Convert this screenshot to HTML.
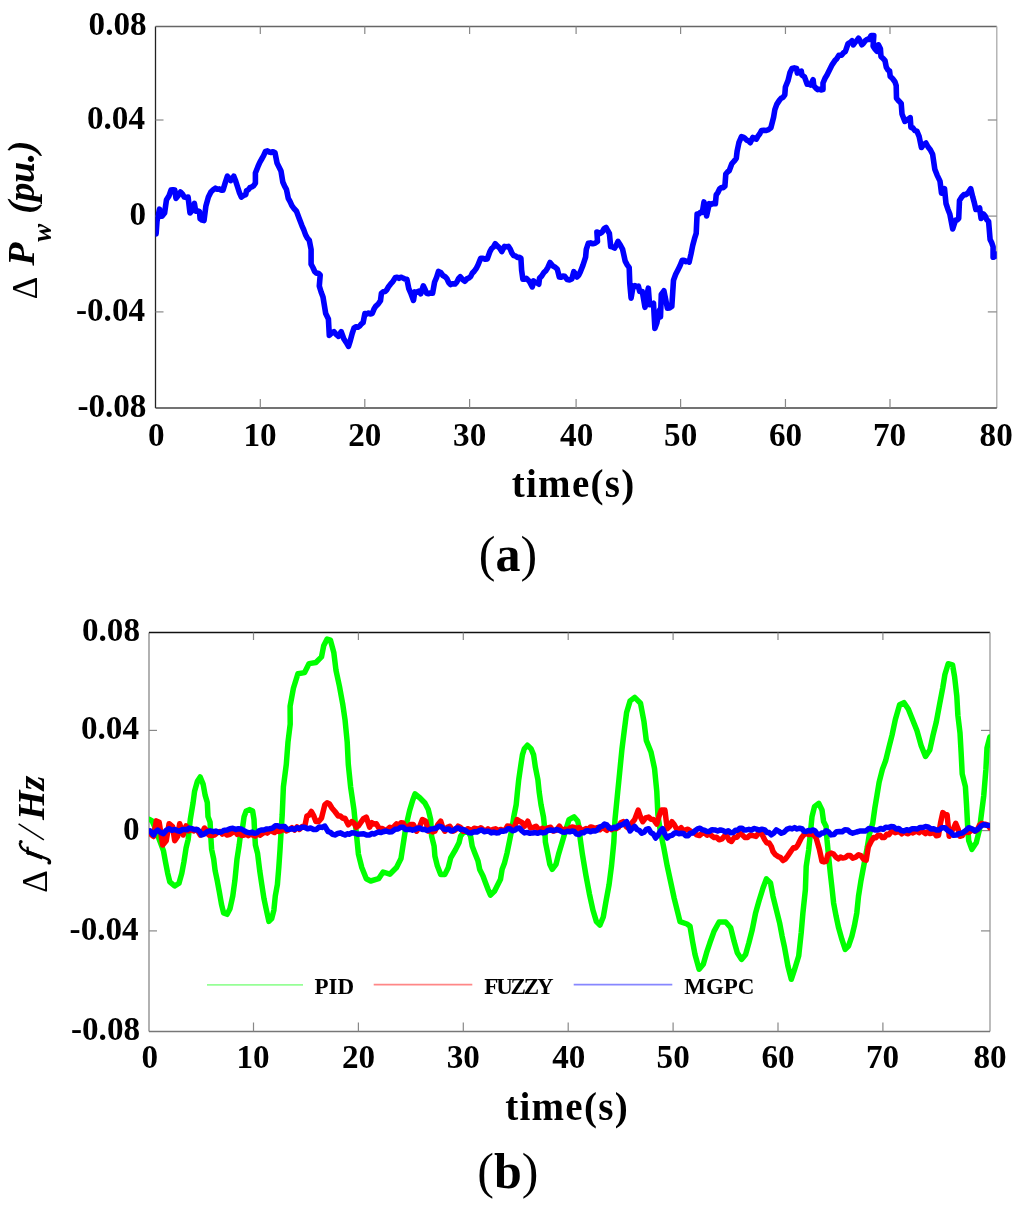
<!DOCTYPE html>
<html><head><meta charset="utf-8"><style>
html,body{margin:0;padding:0;background:#fff;}
svg{display:block;will-change:transform;}
text{font-family:"Liberation Serif",serif;}
</style></head><body>
<svg width="1024" height="1205" viewBox="0 0 1024 1205">
<rect width="1024" height="1205" fill="#fff"/>
<line x1="155.5" y1="26.5" x2="155.5" y2="408.0" stroke="#222" stroke-width="1.3"/>
<line x1="155.5" y1="26.5" x2="996.8" y2="26.5" stroke="#666" stroke-width="1.3"/>
<line x1="996.8" y1="26.5" x2="996.8" y2="408.0" stroke="#aaa" stroke-width="1.3"/>
<line x1="155.5" y1="408.0" x2="996.8" y2="408.0" stroke="#444" stroke-width="1.3"/>
<line x1="260.30" y1="408.0" x2="260.30" y2="399.0" stroke="#888" stroke-width="1.2"/>
<line x1="260.30" y1="26.5" x2="260.30" y2="34.0" stroke="#888" stroke-width="1.2"/>
<line x1="364.80" y1="408.0" x2="364.80" y2="399.0" stroke="#888" stroke-width="1.2"/>
<line x1="364.80" y1="26.5" x2="364.80" y2="34.0" stroke="#888" stroke-width="1.2"/>
<line x1="469.60" y1="408.0" x2="469.60" y2="399.0" stroke="#888" stroke-width="1.2"/>
<line x1="469.60" y1="26.5" x2="469.60" y2="34.0" stroke="#888" stroke-width="1.2"/>
<line x1="576.10" y1="408.0" x2="576.10" y2="399.0" stroke="#888" stroke-width="1.2"/>
<line x1="576.10" y1="26.5" x2="576.10" y2="34.0" stroke="#888" stroke-width="1.2"/>
<line x1="680.60" y1="408.0" x2="680.60" y2="399.0" stroke="#888" stroke-width="1.2"/>
<line x1="680.60" y1="26.5" x2="680.60" y2="34.0" stroke="#888" stroke-width="1.2"/>
<line x1="785.45" y1="408.0" x2="785.45" y2="399.0" stroke="#888" stroke-width="1.2"/>
<line x1="785.45" y1="26.5" x2="785.45" y2="34.0" stroke="#888" stroke-width="1.2"/>
<line x1="890.00" y1="408.0" x2="890.00" y2="399.0" stroke="#888" stroke-width="1.2"/>
<line x1="890.00" y1="26.5" x2="890.00" y2="34.0" stroke="#888" stroke-width="1.2"/>
<line x1="155.5" y1="120.0" x2="163.5" y2="120.0" stroke="#888" stroke-width="1.2"/>
<line x1="996.8" y1="120.0" x2="987.8" y2="120.0" stroke="#888" stroke-width="1.2"/>
<line x1="155.5" y1="216.1" x2="163.5" y2="216.1" stroke="#888" stroke-width="1.2"/>
<line x1="996.8" y1="216.1" x2="987.8" y2="216.1" stroke="#888" stroke-width="1.2"/>
<line x1="155.5" y1="311.9" x2="163.5" y2="311.9" stroke="#888" stroke-width="1.2"/>
<line x1="996.8" y1="311.9" x2="987.8" y2="311.9" stroke="#888" stroke-width="1.2"/>
<clipPath id="ct"><rect x="155.5" y="16.5" width="841.3" height="401.5"/></clipPath>
<polyline clip-path="url(#ct)" points="156.1,233.9 157.0,221.2 159.5,209.2 162.0,216.2 164.6,213.0 166.5,199.7 169.0,195.9 171.0,190.1 172.9,189.7 174.8,190.1 176.0,198.4 178.2,195.5 180.5,192.0 182.4,193.9 184.3,197.1 186.2,197.4 188.1,197.1 190.0,213.0 191.9,210.5 194.4,203.5 195.7,211.1 197.6,210.9 199.5,211.7 200.1,218.7 202.1,220.1 204.0,220.6 205.9,206.0 208.4,197.1 210.9,192.0 213.2,189.8 215.4,188.2 217.3,189.2 219.2,188.9 221.1,190.1 223.0,190.1 225.5,181.9 227.4,176.2 229.0,178.1 230.6,180.6 232.2,178.7 233.8,176.2 235.7,181.1 237.6,187.0 239.5,192.8 241.4,197.1 243.6,195.5 245.8,194.6 246.5,190.8 248.2,189.9 249.9,187.7 251.6,187.0 253.5,185.9 255.4,183.2 255.4,173.0 257.9,166.7 259.8,162.3 261.7,159.0 263.6,155.7 265.5,151.4 267.4,150.9 269.3,152.0 271.2,152.5 273.1,151.7 275.0,152.7 277.0,162.9 279.5,168.0 281.0,171.0 282.8,182.0 284.6,186.1 286.4,189.3 288.3,198.4 290.1,201.7 291.9,205.7 294.2,208.8 296.5,211.2 299.2,218.5 302.0,225.8 303.8,229.9 305.6,234.9 307.5,238.3 309.3,240.4 311.1,249.5 311.1,264.2 312.9,267.5 314.7,271.5 316.5,273.3 318.4,273.3 320.2,275.1 319.3,286.1 321.1,292.0 323.0,297.0 325.7,313.5 328.4,318.9 329.3,335.4 331.6,333.0 333.9,331.7 336.2,334.3 338.5,336.3 341.2,331.7 343.9,339.0 346.2,342.4 348.5,346.3 350.4,340.3 352.2,333.5 354.0,328.1 355.8,326.8 357.7,327.3 359.5,326.2 361.3,324.0 363.1,322.6 364.9,313.5 366.7,314.1 368.5,313.0 370.4,313.9 372.2,313.5 374.0,309.1 375.9,306.1 378.2,304.0 380.5,300.7 381.4,293.4 383.2,291.8 385.1,291.5 386.9,289.7 388.7,286.4 390.5,284.2 392.8,281.7 395.1,277.8 397.1,277.2 399.0,278.3 400.9,277.2 402.9,278.0 404.9,279.0 406.9,279.3 408.8,288.6 411.1,294.0 413.5,300.4 414.8,291.9 416.8,292.2 418.7,291.2 420.7,293.8 423.3,285.9 425.0,289.2 426.6,293.2 428.6,293.7 430.6,292.9 432.6,293.2 434.6,282.0 436.6,277.3 438.5,271.4 440.7,272.5 442.9,275.5 445.1,276.7 446.9,278.6 448.6,282.4 450.4,284.6 452.7,283.7 455.0,284.0 456.8,282.1 458.5,278.6 460.3,276.7 462.6,279.5 464.9,281.3 466.9,278.9 468.8,278.0 470.6,276.6 472.3,273.1 474.1,271.4 476.1,268.7 478.1,264.8 480.7,258.2 482.9,258.2 485.1,259.3 487.3,258.9 489.9,251.6 491.7,248.4 493.4,247.1 495.2,243.7 497.8,246.4 499.8,248.3 501.8,251.6 504.4,246.4 506.4,246.8 508.4,246.4 510.2,249.0 511.9,253.1 513.7,255.6 515.5,256.0 517.3,257.4 519.1,257.2 520.9,258.2 521.6,270.1 522.9,279.3 524.6,279.1 526.3,278.3 529.0,280.9 530.6,283.6 532.3,286.9 533.6,280.9 535.3,282.7 537.1,282.8 538.8,284.2 539.5,278.3 541.7,276.0 543.9,272.6 546.1,270.4 548.0,267.2 550.0,262.5 552.7,265.8 555.0,267.2 557.3,269.1 559.3,277.0 561.1,277.3 562.8,276.0 564.6,276.3 567.2,279.6 569.5,280.0 571.8,279.0 573.8,271.7 575.5,273.7 577.1,277.0 578.8,275.1 580.4,271.7 583.0,265.1 585.6,257.2 586.3,249.3 588.3,243.3 590.5,242.9 592.7,243.8 594.9,243.3 597.5,241.4 596.9,232.1 598.5,232.4 600.1,233.5 602.1,232.2 604.1,228.7 606.1,227.5 607.8,230.8 609.4,233.5 610.7,246.6 612.7,247.0 614.6,248.0 616.3,245.1 618.0,241.4 620.3,245.0 622.6,249.3 625.2,261.1 627.2,264.9 629.2,267.7 629.8,283.6 631.1,298.1 633.1,286.2 634.9,285.6 636.6,286.6 638.4,286.2 639.7,291.5 642.3,291.5 645.0,307.3 646.6,297.5 648.3,288.2 649.6,304.7 651.5,304.5 653.5,303.3 654.9,328.4 656.8,323.1 659.5,310.0 660.5,316.9 661.3,294.3 663.9,290.8 665.6,299.1 667.4,308.2 669.6,307.9 671.8,306.5 673.5,280.3 675.7,274.3 677.9,269.9 680.0,265.7 682.2,260.3 684.0,260.2 685.7,261.7 687.5,261.0 689.2,262.0 691.0,254.0 692.7,245.5 694.5,238.7 696.2,233.3 697.1,214.1 698.8,214.2 700.6,212.2 702.3,212.4 704.0,201.9 706.6,215.9 709.3,203.7 711.3,204.4 713.4,203.2 715.4,203.7 716.2,194.9 718.0,192.3 719.7,188.8 721.4,187.6 723.2,187.7 724.9,186.2 725.8,174.0 727.5,172.0 729.3,170.5 731.9,163.6 734.1,161.2 736.3,158.3 737.1,151.4 738.9,142.7 741.5,136.6 743.2,137.1 745.0,138.3 746.7,140.1 748.5,140.8 750.2,142.7 752.8,137.4 754.5,138.6 756.3,139.2 758.0,136.1 759.8,133.7 761.5,130.5 763.9,130.2 766.3,130.5 768.6,129.6 770.9,127.8 773.6,117.3 774.9,109.4 776.9,104.1 779.5,100.1 781.3,98.1 783.0,97.4 784.8,94.9 785.4,87.0 788.1,80.4 790.0,72.5 792.0,68.5 794.3,67.9 796.6,68.5 797.3,73.1 799.3,72.4 801.3,71.1 801.9,75.1 804.6,77.1 807.2,84.3 808.9,84.3 810.5,85.0 813.1,79.7 813.8,85.6 815.8,88.0 817.7,89.6 819.5,89.2 821.2,89.9 823.0,89.6 823.0,83.0 825.0,78.3 827.0,75.1 829.6,69.8 832.2,64.6 834.9,60.6 836.8,58.7 838.8,55.3 841.5,55.3 843.5,52.8 845.4,51.4 848.1,43.5 850.0,42.7 852.0,40.8 853.3,44.8 855.1,42.3 856.8,40.7 858.6,38.2 860.2,41.1 861.9,44.8 863.5,43.2 865.2,40.8 867.2,39.4 869.2,39.5 871.1,35.5 873.8,35.5 873.1,46.1 875.1,49.1 877.1,51.4 878.4,44.8 880.4,48.7 881.0,56.6 883.0,58.3 885.0,60.6 886.3,67.2 888.0,69.9 889.6,71.1 890.2,76.4 892.5,78.5 894.9,81.7 896.2,85.6 896.5,98.2 898.9,101.1 901.2,103.4 902.0,113.9 904.9,121.4 906.7,119.6 908.4,119.1 910.2,117.6 910.9,127.3 912.9,128.0 914.9,130.6 916.9,131.1 919.1,136.3 921.4,147.5 923.6,144.5 925.9,143.0 928.1,147.0 930.3,149.8 932.6,154.2 934.8,169.2 937.1,175.1 940.0,181.1 941.5,193.1 943.0,190.5 944.5,188.6 946.0,203.5 947.9,209.2 949.8,214.0 952.7,228.9 954.2,224.1 955.7,220.0 957.2,219.9 958.7,218.5 959.5,200.5 961.7,197.0 963.9,194.6 966.2,194.6 968.5,192.3 970.7,188.6 972.9,197.6 974.4,203.1 975.9,209.5 977.8,209.1 979.6,208.0 981.1,218.5 983.4,214.0 985.1,215.8 986.9,219.8 988.6,221.5 990.1,239.4 991.6,242.4 993.1,246.9 993.1,257.3 995.0,256.5 996.8,254.3" fill="none" stroke="#0000ff" stroke-width="5.6" stroke-linejoin="round" stroke-linecap="round"/>
<line x1="149.0" y1="632.5" x2="149.0" y2="1031.5" stroke="#888" stroke-width="1.3"/>
<line x1="149.0" y1="632.5" x2="990.0" y2="632.5" stroke="#111" stroke-width="1.3"/>
<line x1="990.0" y1="632.5" x2="990.0" y2="1031.5" stroke="#999" stroke-width="1.3"/>
<line x1="149.0" y1="1031.5" x2="990.0" y2="1031.5" stroke="#777" stroke-width="1.3"/>
<line x1="253.50" y1="1031.5" x2="253.50" y2="1022.5" stroke="#888" stroke-width="1.2"/>
<line x1="253.50" y1="632.5" x2="253.50" y2="640.0" stroke="#888" stroke-width="1.2"/>
<line x1="358.40" y1="1031.5" x2="358.40" y2="1022.5" stroke="#888" stroke-width="1.2"/>
<line x1="358.40" y1="632.5" x2="358.40" y2="640.0" stroke="#888" stroke-width="1.2"/>
<line x1="463.30" y1="1031.5" x2="463.30" y2="1022.5" stroke="#888" stroke-width="1.2"/>
<line x1="463.30" y1="632.5" x2="463.30" y2="640.0" stroke="#888" stroke-width="1.2"/>
<line x1="568.20" y1="1031.5" x2="568.20" y2="1022.5" stroke="#888" stroke-width="1.2"/>
<line x1="568.20" y1="632.5" x2="568.20" y2="640.0" stroke="#888" stroke-width="1.2"/>
<line x1="673.10" y1="1031.5" x2="673.10" y2="1022.5" stroke="#888" stroke-width="1.2"/>
<line x1="673.10" y1="632.5" x2="673.10" y2="640.0" stroke="#888" stroke-width="1.2"/>
<line x1="778.00" y1="1031.5" x2="778.00" y2="1022.5" stroke="#888" stroke-width="1.2"/>
<line x1="778.00" y1="632.5" x2="778.00" y2="640.0" stroke="#888" stroke-width="1.2"/>
<line x1="882.90" y1="1031.5" x2="882.90" y2="1022.5" stroke="#888" stroke-width="1.2"/>
<line x1="882.90" y1="632.5" x2="882.90" y2="640.0" stroke="#888" stroke-width="1.2"/>
<line x1="149.0" y1="730.4" x2="157.0" y2="730.4" stroke="#888" stroke-width="1.2"/>
<line x1="990.0" y1="730.4" x2="981.0" y2="730.4" stroke="#888" stroke-width="1.2"/>
<line x1="149.0" y1="830.6" x2="157.0" y2="830.6" stroke="#888" stroke-width="1.2"/>
<line x1="990.0" y1="830.6" x2="981.0" y2="830.6" stroke="#888" stroke-width="1.2"/>
<line x1="149.0" y1="930.9" x2="157.0" y2="930.9" stroke="#888" stroke-width="1.2"/>
<line x1="990.0" y1="930.9" x2="981.0" y2="930.9" stroke="#888" stroke-width="1.2"/>
<clipPath id="cb"><rect x="149.0" y="622.5" width="841.0" height="419.0"/></clipPath>
<g clip-path="url(#cb)" fill="none" stroke-width="5.5" stroke-linejoin="round" stroke-linecap="round">
<polyline points="149.5,819.5 152.1,820.9 156.0,830.0 159.2,839.3 163.4,850.6 165.5,862.0 167.7,873.3 169.8,881.8 174.7,886.0 179.0,883.2 181.8,873.3 183.9,862.0 186.1,847.8 188.2,839.3 190.3,819.5 193.1,802.5 194.6,791.2 197.4,781.2 200.2,777.0 203.1,784.1 205.2,795.4 207.3,802.5 208.0,816.6 210.1,822.3 210.8,836.5 211.6,849.2 213.7,859.1 215.1,870.5 217.2,880.4 219.3,891.7 221.5,904.4 223.6,912.9 227.1,914.3 230.0,908.7 232.8,895.9 234.9,880.4 237.0,859.1 239.2,845.0 240.6,833.6 242.7,826.6 244.1,816.6 246.2,811.0 249.8,809.6 252.6,811.0 254.0,819.5 254.7,833.6 255.4,845.0 257.6,853.5 259.7,870.5 261.8,884.6 264.0,898.8 266.1,908.7 268.9,921.4 271.7,918.6 273.9,910.1 275.3,895.9 277.4,884.6 278.8,867.6 280.0,850.0 281.2,830.0 282.2,815.0 283.4,786.8 286.3,764.4 288.0,742.0 290.2,724.1 290.1,706.2 293.4,688.3 297.9,673.7 304.6,672.6 309.1,663.6 315.9,662.5 321.5,656.9 323.7,645.7 327.1,639.0 330.4,640.1 333.8,652.4 336.0,670.3 339.4,686.0 342.7,703.9 345.0,719.6 347.2,742.0 348.3,764.4 350.6,786.8 353.9,809.3 356.2,831.7 358.4,854.1 361.8,867.5 366.3,878.7 370.7,881.0 378.6,878.7 383.1,872.0 389.8,874.2 396.5,867.5 401.0,858.5 403.3,843.5 406.0,826.0 409.6,810.5 412.6,800.5 415.0,793.9 420.0,798.0 424.9,803.0 428.3,809.6 430.7,819.6 431.6,836.2 434.1,846.1 434.9,856.1 437.4,866.1 440.7,874.4 444.9,874.4 448.2,867.7 450.7,857.8 455.6,849.5 459.0,842.8 460.6,836.2 463.1,832.9 468.1,831.2 470.6,836.2 472.2,846.1 474.7,852.8 478.0,861.1 479.7,869.4 483.0,876.0 485.5,882.7 488.0,889.3 490.5,895.1 494.6,891.0 497.1,886.0 500.5,879.3 502.1,869.4 504.6,862.7 507.1,852.8 509.3,842.0 511.8,829.5 513.7,817.1 516.2,804.6 517.4,792.2 518.7,779.8 520.5,767.3 522.4,754.9 524.3,748.7 527.4,745.2 531.1,748.7 533.6,754.9 535.4,767.3 537.9,779.8 539.2,792.2 541.0,804.6 543.5,817.1 544.8,829.5 545.4,842.0 547.9,854.4 549.8,864.3 552.2,869.3 556.0,864.3 558.5,854.4 562.2,842.0 565.9,829.5 569.0,819.6 574.0,816.8 577.7,821.0 579.6,829.5 580.1,838.0 582.4,854.3 585.9,875.2 589.4,893.8 592.9,910.0 596.4,921.6 599.9,925.1 603.3,917.0 605.7,903.0 609.1,884.5 611.5,865.9 613.8,842.6 615.0,819.4 617.3,796.2 619.6,772.9 621.9,749.7 624.2,731.1 626.6,712.5 630.1,700.9 634.7,697.4 640.5,703.2 644.0,721.8 646.3,740.4 651.0,752.0 654.5,768.3 656.8,791.5 657.9,814.8 660.3,831.0 663.7,847.3 667.2,865.9 670.7,882.1 674.2,898.4 677.7,912.3 680.0,921.6 687.0,924.0 690.0,926.2 692.5,941.1 695.0,954.4 699.1,969.3 703.3,964.3 706.6,952.7 709.9,942.8 714.1,931.1 719.1,922.0 725.7,922.0 730.7,927.8 734.0,941.1 737.3,952.7 741.5,959.4 745.6,954.4 748.9,942.8 752.3,929.5 755.6,912.9 758.9,901.3 763.0,888.0 766.4,878.9 770.5,883.0 773.0,896.3 776.3,909.6 779.6,922.8 782.1,936.1 784.6,947.7 787.9,966.0 791.3,979.3 794.6,969.3 798.7,956.0 801.2,932.8 802.9,912.9 805.4,889.6 806.2,866.4 808.7,849.8 810.4,833.2 812.0,816.6 814.5,806.6 818.7,803.3 822.0,810.0 823.6,821.6 826.1,826.6 827.0,839.8 828.6,856.4 830.3,873.0 832.0,888.0 833.6,902.9 836.1,916.2 838.6,927.8 841.9,939.4 845.2,949.4 848.5,946.1 851.9,936.1 854.3,926.2 856.8,912.9 858.5,896.3 860.8,881.6 864.0,864.4 867.3,847.1 869.4,834.2 872.7,823.4 874.8,808.3 877.0,795.3 879.1,782.4 882.4,769.4 885.6,760.8 888.8,747.9 892.1,734.9 895.3,719.8 899.6,704.7 903.9,702.6 908.3,709.0 912.6,719.8 916.9,730.6 921.2,745.7 925.5,756.5 929.8,750.0 933.1,734.9 936.3,722.0 939.5,704.7 942.8,687.5 944.9,674.5 948.2,663.7 952.5,664.8 954.6,676.7 956.8,696.1 957.9,715.5 960.0,732.8 961.1,752.2 962.2,773.8 965.4,786.7 966.5,804.0 967.6,825.5 968.7,840.6 971.9,849.3 976.2,842.8 979.4,829.9 981.6,812.6 983.8,795.3 985.9,769.4 987.0,747.9 989.8,737.1" stroke="#00ff00"/>
<polyline points="150.0,833.6 153.5,836.5 156.3,820.9 159.2,822.3 162.7,845.0 166.2,840.7 169.1,823.7 172.6,826.6 174.7,840.7 177.6,836.5 179.7,823.7 183.2,835.0 186.1,825.8 188.9,830.8 191.3,829.6 193.6,831.0 196.0,829.4 198.1,831.3 200.2,835.0 202.3,832.7 204.5,828.0 206.6,830.3 208.7,835.0 211.6,835.6 214.4,835.0 217.2,832.8 220.0,831.5 222.4,834.1 224.7,833.1 227.1,835.0 229.9,834.3 232.8,832.2 235.1,831.2 237.3,834.3 239.6,832.5 241.8,835.5 244.1,835.0 246.2,833.8 248.3,835.6 250.5,833.8 252.6,835.0 255.1,836.1 257.6,833.2 260.0,835.3 262.5,833.6 265.0,831.8 267.4,833.1 269.9,830.7 272.4,831.5 274.5,832.5 276.7,830.3 278.9,831.5 281.0,830.8 283.8,828.9 286.6,830.9 289.4,829.4 291.9,827.7 294.5,830.1 297.0,827.0 299.5,829.4 302.1,826.6 304.6,827.2 306.9,816.0 309.1,815.1 311.4,811.5 313.6,815.6 315.9,821.6 318.7,821.4 321.5,818.2 324.8,804.8 327.1,802.8 329.3,803.7 332.1,808.2 334.9,811.5 338.3,816.0 340.5,816.1 342.8,818.2 345.0,818.2 348.3,824.9 351.7,821.6 353.9,822.8 356.2,827.2 358.4,825.9 360.7,822.7 363.5,818.7 366.3,817.1 369.6,827.2 371.9,822.7 374.1,824.1 376.3,823.8 379.7,829.4 382.3,828.4 385.0,830.3 387.6,829.4 389.8,827.4 392.1,828.3 394.3,826.1 396.5,823.8 398.8,825.3 401.0,822.7 403.2,823.0 405.5,827.2 407.7,827.2 410.5,824.5 413.3,824.6 416.6,831.2 419.5,827.0 422.4,819.6 425.8,821.2 428.3,831.2 430.5,830.0 432.7,831.9 434.9,831.2 437.8,824.8 440.7,821.2 442.8,827.8 444.9,831.2 447.4,827.2 449.8,826.2 453.2,831.2 455.6,829.8 458.1,826.2 460.6,827.4 463.1,831.2 465.3,831.3 467.6,828.7 469.8,829.5 472.0,830.4 474.2,828.2 476.4,828.7 478.6,829.5 480.8,827.8 483.0,829.5 485.5,831.1 488.0,828.9 490.5,830.9 493.0,829.5 495.5,828.8 497.9,830.6 500.4,829.4 502.9,830.4 505.1,830.3 507.4,826.1 509.6,826.2 512.9,830.4 515.0,825.5 517.1,819.6 519.5,821.2 522.0,822.5 524.5,826.2 527.8,821.2 530.3,827.9 533.2,827.6 536.1,826.2 539.5,830.4 542.3,828.3 545.0,829.6 547.8,827.9 550.6,827.3 553.3,831.1 556.1,830.4 559.4,826.2 562.7,831.2 565.1,829.1 567.6,830.6 570.0,827.9 572.1,826.9 574.3,827.5 576.6,828.7 579.0,827.5 581.3,829.8 583.6,829.9 585.9,828.6 588.2,829.6 590.6,826.9 592.9,827.5 595.2,828.4 597.5,827.5 599.9,829.7 602.2,827.6 604.5,828.7 606.8,830.3 609.1,827.2 611.5,829.6 613.8,827.7 616.1,828.7 618.4,827.4 620.8,822.8 623.1,821.7 626.0,826.3 628.9,828.7 631.8,822.9 634.7,819.4 638.2,810.1 640.5,817.1 642.8,821.7 645.7,817.9 648.6,817.1 651.0,819.3 653.3,819.4 656.8,824.1 659.1,816.1 661.4,810.1 664.9,810.1 667.2,828.7 669.5,826.5 671.9,821.7 674.2,824.5 676.5,828.7 678.8,829.8 681.1,827.7 683.5,830.7 685.8,829.9 687.9,829.2 690.0,830.7 692.2,832.6 694.4,832.6 696.6,834.9 699.4,835.5 702.1,833.3 704.9,833.2 707.1,835.2 709.4,833.7 711.6,835.7 714.1,837.6 716.6,837.3 719.1,839.8 722.0,838.8 724.9,835.7 727.1,836.4 729.3,840.4 731.5,841.5 734.3,837.5 737.0,837.3 739.8,833.2 742.3,834.8 744.8,837.4 747.6,837.4 750.3,835.0 753.1,835.7 755.9,836.4 758.6,833.3 761.4,833.2 764.7,839.8 766.9,843.0 769.1,843.1 771.3,846.5 773.0,851.5 775.5,854.8 778.0,856.4 780.5,857.6 783.0,860.6 785.5,858.9 787.9,855.6 791.3,850.6 793.5,847.8 795.7,847.9 797.9,844.8 801.2,838.2 803.7,834.9 806.2,833.2 808.7,834.5 811.2,834.0 813.7,834.8 816.2,838.2 819.5,849.8 822.0,861.4 824.0,861.9 826.1,861.4 827.8,854.8 831.1,853.1 833.6,854.1 836.1,857.3 838.3,858.9 840.5,857.0 842.7,858.1 845.2,857.6 847.7,855.6 850.2,855.5 852.7,858.1 855.7,857.1 858.6,854.7 861.1,855.8 863.7,859.3 866.2,860.1 868.3,847.1 871.6,840.6 873.7,837.6 875.9,837.7 878.0,835.3 880.2,835.2 882.3,837.6 884.5,837.4 886.7,834.2 888.8,834.8 891.0,832.0 893.2,830.6 895.3,832.7 897.5,832.0 899.6,831.4 901.8,833.8 904.0,831.4 906.1,833.1 908.2,833.8 910.4,831.8 912.6,832.9 914.7,832.0 916.9,830.9 919.0,832.7 921.2,830.6 923.4,832.0 925.5,833.7 927.7,831.9 929.9,833.6 932.0,833.1 934.2,832.4 936.3,835.8 938.5,835.3 940.6,822.6 942.8,812.6 945.0,814.6 947.1,814.8 949.2,836.3 951.4,831.4 953.5,828.5 955.7,823.4 957.9,828.5 960.0,836.3 962.2,835.7 964.3,832.6 966.5,832.0 968.6,832.4 970.8,830.9 973.0,829.6 975.1,831.2 977.3,829.9 979.5,825.1 981.6,823.4 983.8,824.8 985.9,824.3 988.1,825.5 989.8,827.7" stroke="#ff0000"/>
<polyline points="150.0,830.8 153.5,835.0 155.6,831.8 157.7,830.0 160.6,832.5 163.4,833.6 166.2,830.4 169.1,828.7 171.9,830.3 174.8,829.4 177.6,830.8 179.9,831.2 182.3,829.6 184.6,829.4 187.0,829.7 189.3,828.1 191.7,828.7 194.6,829.7 197.4,829.4 199.5,831.4 201.6,835.0 204.4,833.9 207.3,831.6 210.1,830.8 212.9,831.7 215.8,831.1 218.6,832.2 221.4,832.0 224.3,830.2 227.2,830.0 230.0,828.7 232.8,828.3 235.7,829.5 238.5,828.7 241.3,829.0 244.1,830.8 246.9,832.2 249.8,832.9 252.2,832.1 254.5,833.3 256.9,832.9 259.0,830.8 261.1,830.1 263.9,830.0 266.8,828.9 269.6,828.7 272.5,828.1 275.3,825.8 277.7,825.7 280.0,826.7 282.4,826.6 284.7,826.6 287.1,829.3 289.4,829.4 291.9,828.6 294.5,829.5 297.0,827.7 299.5,828.6 302.1,827.2 304.6,827.2 307.6,828.8 310.6,828.0 313.6,829.4 316.4,829.5 319.2,826.9 322.0,827.4 324.8,826.1 328.2,831.7 330.4,832.3 332.7,834.3 334.9,835.0 337.7,833.5 340.5,832.8 342.8,834.2 345.0,835.0 347.2,833.8 349.5,834.2 351.7,832.8 354.7,832.9 357.7,834.2 360.7,833.9 363.7,833.8 366.6,835.1 369.6,835.0 371.8,833.5 374.1,834.1 376.3,832.8 378.6,832.0 380.8,832.6 383.1,831.7 386.1,831.0 389.0,832.0 392.0,831.7 395.0,829.3 398.0,829.0 401.0,827.2 403.2,827.2 405.5,829.5 407.7,829.4 410.1,829.2 412.6,830.2 415.0,829.5 417.5,828.2 420.0,827.9 422.2,829.4 424.4,829.3 426.6,830.4 428.8,830.1 431.0,828.9 433.2,828.7 436.1,828.3 439.0,826.2 441.5,826.9 444.0,829.1 446.5,829.5 448.7,828.9 451.0,831.0 453.2,830.4 455.6,828.7 458.1,827.9 460.9,829.5 463.6,829.5 466.4,831.2 468.9,832.8 471.4,832.9 474.2,831.7 476.9,832.0 479.7,830.4 481.9,829.9 484.1,831.7 486.3,831.2 488.8,831.3 491.3,832.9 493.8,832.1 496.3,832.9 498.5,832.8 500.8,831.1 503.0,831.2 505.4,830.8 507.9,828.7 510.1,828.8 512.4,830.7 514.6,830.4 517.0,828.5 519.5,827.9 522.0,830.9 524.5,832.9 527.3,832.4 530.0,833.3 532.8,832.9 535.3,832.6 537.8,833.3 540.3,832.2 542.8,832.9 545.3,832.5 547.8,830.4 550.7,830.0 553.6,830.7 556.5,829.5 559.4,830.4 562.2,831.9 565.0,832.2 567.3,831.3 569.7,831.8 572.0,831.0 574.3,831.5 576.6,834.1 578.9,834.5 581.2,832.8 583.6,832.7 585.9,831.0 588.2,830.7 590.5,831.8 592.9,830.7 595.2,831.0 597.5,829.9 599.9,826.8 602.2,826.2 604.5,824.1 606.8,824.9 609.2,828.0 611.5,828.7 613.8,827.2 616.1,827.7 618.5,825.7 620.8,825.2 623.7,824.0 626.6,821.7 630.1,831.0 632.4,828.3 634.7,826.4 637.0,829.5 639.4,830.5 641.7,833.3 644.0,832.3 646.3,829.3 648.6,828.7 650.9,832.6 653.3,834.0 655.6,838.0 657.9,835.5 660.3,831.2 662.6,828.7 664.9,834.1 667.2,838.0 669.5,835.9 671.9,835.3 674.2,833.3 676.5,832.8 678.9,833.7 681.2,833.3 683.5,833.6 685.8,835.8 688.1,835.7 690.4,833.2 692.7,833.0 695.0,830.7 697.5,828.9 700.0,828.2 702.2,829.8 704.4,830.1 706.6,831.5 709.4,831.4 712.1,829.7 714.9,829.9 717.7,831.0 720.4,829.9 723.2,830.7 725.7,831.9 728.2,830.8 730.7,832.7 733.2,832.4 735.4,830.3 737.6,830.3 739.8,828.2 742.0,828.3 744.2,830.0 746.4,829.9 748.9,829.3 751.4,830.1 753.9,828.5 756.4,829.1 759.2,830.1 761.9,829.2 764.7,829.9 766.9,832.4 769.1,832.6 771.3,834.9 773.8,833.0 776.3,829.9 778.8,831.3 781.3,833.2 784.1,832.1 786.8,829.4 789.6,828.2 792.1,828.9 794.6,827.6 797.1,829.0 799.6,828.2 801.8,828.6 804.0,831.2 806.2,831.5 808.4,830.5 810.6,831.1 812.8,829.9 815.0,830.8 817.3,834.0 819.5,834.9 821.7,833.0 823.9,832.9 826.1,830.7 828.6,832.0 831.1,834.9 833.9,834.5 836.6,831.7 839.4,831.5 842.2,831.8 844.9,829.8 847.7,829.9 850.2,832.2 852.7,833.2 856.5,832.0 859.7,831.1 862.9,830.9 865.8,831.0 868.7,828.6 871.6,828.8 874.8,829.9 878.0,829.9 880.6,828.5 883.2,829.3 885.8,827.2 888.4,827.6 891.0,826.6 893.6,826.7 896.2,829.0 898.7,828.5 901.3,830.6 903.9,830.9 906.6,829.7 909.3,830.6 912.0,828.7 914.7,828.8 917.4,829.0 920.1,827.4 922.8,827.5 925.5,826.6 928.2,826.9 930.9,828.9 933.6,828.7 936.3,829.9 939.2,829.9 942.0,827.8 944.9,827.7 947.8,830.5 950.7,832.2 953.6,835.3 956.5,835.0 959.3,833.5 962.2,833.1 965.5,830.8 968.7,827.7 971.9,828.8 975.1,830.9 978.0,829.2 980.9,826.2 983.8,824.5 986.8,825.3 989.8,825.5" stroke="#0000ff"/>
</g>
<line x1="207" y1="984.8" x2="303" y2="984.8" stroke="rgb(150,255,150)" stroke-width="1.8"/>
<line x1="373.7" y1="984.6" x2="472.3" y2="984.6" stroke="rgb(255,135,135)" stroke-width="1.8"/>
<line x1="573.7" y1="984.6" x2="672.3" y2="984.6" stroke="rgb(135,135,255)" stroke-width="1.8"/>
<g transform="translate(88.6,35.25)"><text x="0" y="0" font-size="34" font-weight="bold" transform="scale(0.975,1.02)">0.08</text></g>
<g transform="translate(87.0,128.6)"><text x="0" y="0" font-size="34" font-weight="bold" transform="scale(0.975,1.02)">0.04</text></g>
<g transform="translate(129.4,224.75)"><text x="0" y="0" font-size="34" font-weight="bold" transform="scale(0.975,1.02)">0</text></g>
<g transform="translate(76.0,320.52)"><text x="0" y="0" font-size="34" font-weight="bold" transform="scale(0.975,1.02)">-0.04</text></g>
<g transform="translate(77.4,416.9)"><text x="0" y="0" font-size="34" font-weight="bold" transform="scale(0.975,1.02)">-0.08</text></g>
<g transform="translate(82.0,641.45)"><text x="0" y="0" font-size="34" font-weight="bold" transform="scale(0.975,1.02)">0.08</text></g>
<g transform="translate(81.0,739.45)"><text x="0" y="0" font-size="34" font-weight="bold" transform="scale(0.975,1.02)">0.04</text></g>
<g transform="translate(123.1,839.5)"><text x="0" y="0" font-size="34" font-weight="bold" transform="scale(0.975,1.02)">0</text></g>
<g transform="translate(69.6,940.2)"><text x="0" y="0" font-size="34" font-weight="bold" transform="scale(0.975,1.02)">-0.04</text></g>
<g transform="translate(71.0,1040.35)"><text x="0" y="0" font-size="34" font-weight="bold" transform="scale(0.975,1.02)">-0.08</text></g>
<g transform="translate(147.9,445.55)"><text x="0" y="0" font-size="34" font-weight="bold" transform="scale(0.975,1.02)">0</text></g>
<g transform="translate(243.4,445.55)"><text x="0" y="0" font-size="34" font-weight="bold" transform="scale(0.975,1.02)">10</text></g>
<g transform="translate(348.3,445.55)"><text x="0" y="0" font-size="34" font-weight="bold" transform="scale(0.975,1.02)">20</text></g>
<g transform="translate(453.1,445.55)"><text x="0" y="0" font-size="34" font-weight="bold" transform="scale(0.975,1.02)">30</text></g>
<g transform="translate(560.1,445.55)"><text x="0" y="0" font-size="34" font-weight="bold" transform="scale(0.975,1.02)">40</text></g>
<g transform="translate(664.1,445.55)"><text x="0" y="0" font-size="34" font-weight="bold" transform="scale(0.975,1.02)">50</text></g>
<g transform="translate(768.95,445.55)"><text x="0" y="0" font-size="34" font-weight="bold" transform="scale(0.975,1.02)">60</text></g>
<g transform="translate(872.9,445.55)"><text x="0" y="0" font-size="34" font-weight="bold" transform="scale(0.975,1.02)">70</text></g>
<g transform="translate(979.6,445.55)"><text x="0" y="0" font-size="34" font-weight="bold" transform="scale(0.975,1.02)">80</text></g>
<g transform="translate(141.5,1068.45)"><text x="0" y="0" font-size="34" font-weight="bold" transform="scale(0.975,1.02)">0</text></g>
<g transform="translate(236.5,1068.45)"><text x="0" y="0" font-size="34" font-weight="bold" transform="scale(0.975,1.02)">10</text></g>
<g transform="translate(341.9,1068.45)"><text x="0" y="0" font-size="34" font-weight="bold" transform="scale(0.975,1.02)">20</text></g>
<g transform="translate(446.8,1068.45)"><text x="0" y="0" font-size="34" font-weight="bold" transform="scale(0.975,1.02)">30</text></g>
<g transform="translate(552.2,1068.45)"><text x="0" y="0" font-size="34" font-weight="bold" transform="scale(0.975,1.02)">40</text></g>
<g transform="translate(656.6,1068.45)"><text x="0" y="0" font-size="34" font-weight="bold" transform="scale(0.975,1.02)">50</text></g>
<g transform="translate(761.5,1068.45)"><text x="0" y="0" font-size="34" font-weight="bold" transform="scale(0.975,1.02)">60</text></g>
<g transform="translate(865.9,1068.45)"><text x="0" y="0" font-size="34" font-weight="bold" transform="scale(0.975,1.02)">70</text></g>
<g transform="translate(973.5,1068.45)"><text x="0" y="0" font-size="34" font-weight="bold" transform="scale(0.975,1.02)">80</text></g>
<g transform="translate(511.7,496.9)"><text x="0" y="0" font-size="39" font-weight="bold" letter-spacing="1.3">time(s)</text></g>
<g transform="translate(505.15,1119.75)"><text x="0" y="0" font-size="39" font-weight="bold" letter-spacing="1.3">time(s)</text></g>
<g transform="translate(478.85,571.0)"><text x="0" y="0" font-size="50">(<tspan font-weight="bold">a</tspan>)</text></g>
<g transform="translate(477.35,1188.45)"><text x="0" y="0" font-size="50">(<tspan font-weight="bold">b</tspan>)</text></g>
<g transform="translate(314.45,993.7)"><text x="0" y="0" font-size="23" font-weight="bold" >PID</text></g>
<g transform="translate(484.35,993.58)"><text x="0" y="0" font-size="23" font-weight="bold" letter-spacing="-2.2">FUZZY</text></g>
<g transform="translate(684.2,993.9)"><text x="0" y="0" font-size="23" font-weight="bold" >MGPC</text></g>
<g transform="translate(36.9,299.25)"><g transform="rotate(-90)"><text x="0" y="0" font-size="35" >&#916;</text></g></g>
<g transform="translate(34.05,265.7)"><g transform="rotate(-90)"><text x="0" y="0" font-size="38" font-weight="bold" font-style="italic">P</text></g></g>
<g transform="translate(50.9,241.75)"><g transform="rotate(-90)"><text x="0" y="0" font-size="27" font-weight="bold" font-style="italic">w</text></g></g>
<g transform="translate(34.05,213.85)"><g transform="rotate(-90)"><text x="0" y="0" font-size="38" font-weight="bold" font-style="italic" letter-spacing="-0.4">(pu.)</text></g></g>
<g transform="translate(46.5,892.65)"><g transform="rotate(-90)"><text x="0" y="0" font-size="35" >&#916;</text></g></g>
<g transform="translate(25.45,854.1)"><g fill="none" stroke="#000"><path d="M -5.6 -11.2 Q -5.8 -6.5 -0.4 -3.6 L 20.5 4.2 Q 25.5 6.2 24.3 8.2" stroke-width="2.4"/><path d="M 1 -2.4 L 17 3.6" stroke-width="3.8"/><path d="M 2 -7.5 L 3 0.8" stroke-width="2.2"/></g><circle cx="-4.6" cy="-12.4" r="1.8"/><circle cx="23.8" cy="8.6" r="1.9"/></g>
<g transform="translate(31.25,831.85)"><line x1="-12.65" y1="-7.95" x2="12.65" y2="7.95" stroke="#000" stroke-width="1.5"/></g>
<g transform="translate(43.6,820.05)"><g transform="rotate(-90)"><text x="0" y="0" font-size="38" font-weight="bold" font-style="italic">Hz</text></g></g>
</svg>
</body></html>
